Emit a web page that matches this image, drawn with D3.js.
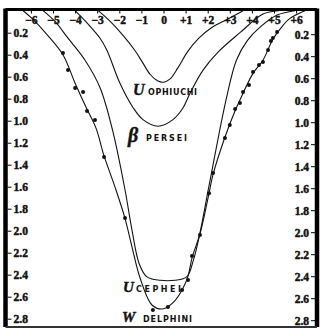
<!DOCTYPE html>
<html><head><meta charset="utf-8">
<script src="https://cdn.jsdelivr.net/npm/d3@7"></script>
<style>html,body{margin:0;padding:0;background:#fff;}svg{display:block;}</style>
</head><body>
<script>
// ---- data ----
const hourTicks = [-6,-5,-4,-3,-2,-1,0,1,2,3,4,5,6];
const hourLabels = ["\u22126","\u22125","\u22124","\u22123","\u22122","\u22121","0","+1","+2","+3","+4","+5","+6"];
const magTicks = [0.2,0.4,0.6,0.8,1.0,1.2,1.4,1.6,1.8,2.0,2.2,2.4,2.6,2.8];
const magLabels = ["0.2","0.4","0.6","0.8","1.0","1.2","1.4","1.6","1.8","2.0","2.2","2.4","2.6","2.8"];

// light curves: [hours from minimum, magnitude drop]
const uOphiuchi = [[-2.95,0],[-2.4,0.1],[-1.85,0.22],[-1.3,0.36],[-0.95,0.47],[-0.6,0.58],[-0.25,0.64],[0,0.65],[0.3,0.62],[0.65,0.52],[1.1,0.37],[1.6,0.25],[2.2,0.15],[2.87,0.08],[3.6,0]];
const betaPersei = [[-4.0,0],[-3.42,0.12],[-2.87,0.25],[-2.56,0.36],[-1.97,0.66],[-1.38,0.88],[-0.93,0.99],[-0.25,1.05],[0.43,0.99],[0.88,0.885],[1.2,0.75],[1.79,0.54],[2.5,0.37],[3.46,0.2],[4.5,0.03],[5.2,0]];
const uCephei = [[-5.45,0],[-4.9,0.1],[-4.32,0.25],[-3.55,0.45],[-2.87,0.70],[-2.3,1.09],[-1.74,1.63],[-1.43,1.99],[-1.1,2.3],[-0.75,2.42],[-0.16,2.45],[0.52,2.45],[1.05,2.42],[1.35,2.27],[1.65,2.02],[2.1,1.55],[2.83,0.81],[3.3,0.45],[3.8,0.27],[4.37,0.15],[5.14,0.04],[5.95,0]];
const wDelphini = [[-6.35,0],[-5.95,0.07],[-5.3,0.21],[-4.55,0.4],[-4.0,0.66],[-3.5,0.88],[-3.05,1.07],[-2.69,1.32],[-2.2,1.6],[-1.74,1.89],[-1.4,2.17],[-1.06,2.43],[-0.5,2.68],[0,2.71],[0.5,2.64],[0.84,2.54],[1.1,2.42],[1.3,2.24],[1.65,2.03],[2.06,1.66],[2.24,1.49],[2.78,1.15],[3.24,0.91],[3.6,0.75],[4.05,0.57],[4.5,0.45],[4.95,0.26],[5.3,0.16],[5.72,0.07],[6.4,0]];
const wDelphiniObs = [[-4.55,0.385],[-4.32,0.539],[-4.0,0.703],[-3.64,0.739],[-3.46,0.912],[-3.1,0.994],[-2.69,1.33],[-1.74,1.885],[-0.48,2.72],[0.2,2.694],[0.84,2.54],[1.11,2.448],[1.29,2.23],[1.65,2.04],[2.06,1.66],[2.24,1.475],[2.78,1.157],[3.0,1.04],[3.24,0.894],[3.46,0.839],[3.6,0.739],[3.87,0.675],[4.05,0.557],[4.32,0.494],[4.5,0.466],[4.73,0.357],[4.86,0.276],[4.95,0.248],[5.14,0.194]];

const starNames = ["OPHIUCHI","PERSEI","CEPHEI","DELPHINI"];
const starSymbols = ["U","\u03B2","U","W"];

// ---- drawing ----
const W = 320, H = 330;
const svg = d3.select("body").append("svg").attr("width", W).attr("height", H);

const x = d3.scaleLinear().domain([-6, 6]).range([30.9, 296.1]);
const y = d3.scaleLinear().domain([0, 2.8]).range([10.7, 318.7]);

const frame = {l: 5.5, r: 317, t: 9.5, b: 327};

svg.append("clipPath").attr("id","clip").append("rect")
  .attr("x", frame.l).attr("y", frame.t).attr("width", frame.r - frame.l).attr("height", frame.b - frame.t);

const line = d3.line().x(d => x(d[0])).y(d => y(d[1])).curve(d3.curveCatmullRom.alpha(0.5));
const g = svg.append("g").attr("clip-path","url(#clip)");
[uOphiuchi, betaPersei, uCephei, wDelphini].forEach(c => {
  g.append("path").attr("d", line(c)).attr("fill","none").attr("stroke","#111").attr("stroke-width",1.1);
});
g.selectAll("circle.obs").data(wDelphiniObs).join("circle").attr("class","obs")
  .attr("cx", d => x(d[0])).attr("cy", d => y(d[1])).attr("r", 2).attr("fill","#111");

// frame
svg.append("line").attr("x1",frame.l).attr("x2",frame.l).attr("y1",frame.t-1).attr("y2",frame.b).attr("stroke","#000").attr("stroke-width",4.5);
svg.append("line").attr("x1",frame.r).attr("x2",frame.r).attr("y1",frame.t-1).attr("y2",frame.b).attr("stroke","#000").attr("stroke-width",4.5);
svg.append("line").attr("x1",frame.l).attr("x2",frame.r).attr("y1",frame.t).attr("y2",frame.t).attr("stroke","#000").attr("stroke-width",3);
svg.append("line").attr("x1",frame.l).attr("x2",frame.r).attr("y1",frame.b).attr("y2",frame.b).attr("stroke","#333").attr("stroke-width",2);

function styleLabels(sel) {
  sel.style("font-family","'Liberation Serif', 'Times New Roman', serif").style("font-weight","700")
     .style("font-size","11.5px").attr("fill","#111").attr("stroke","#111").attr("stroke-width",0.45);
}

// top axis (hours)
const topAxis = d3.axisBottom(x).tickValues(hourTicks).tickSize(3).tickPadding(2)
  .tickFormat((d,i) => hourLabels[i]);
const ta = svg.append("g").attr("transform",`translate(0,${frame.t+1})`).call(topAxis);
ta.select(".domain").remove();
styleLabels(ta.selectAll("text"));

// left axis (magnitude)
const leftAxis = d3.axisRight(y).tickValues(magTicks).tickSize(4).tickPadding(2)
  .tickFormat((d,i) => magLabels[i]);
const la = svg.append("g").attr("transform",`translate(${frame.l+2},0)`).call(leftAxis);
la.select(".domain").remove();
styleLabels(la.selectAll("text"));
la.selectAll("text").attr("dy","0.35em");

// right axis
const rightAxis = d3.axisLeft(y).tickValues(magTicks).tickSize(4).tickPadding(2)
  .tickFormat((d,i) => magLabels[i]);
const ra = svg.append("g").attr("transform",`translate(${frame.r-2},1.5)`).call(rightAxis);
ra.select(".domain").remove();
styleLabels(ra.selectAll("text"));
ra.selectAll("text").attr("dy","0.35em");

// star labels
const labelPos = [
  {sx:133, nx:148, yb:95, ss:16, nw:49},
  {sx:128, nx:146, yb:142, ss:20, nw:41},
  {sx:123, nx:136, yb:292, ss:15, nw:45},
  {sx:122, nx:143, yb:322, ss:15, nw:49}
];
labelPos.forEach((p,i) => {
  svg.append("text").attr("x",p.sx).attr("y",p.yb)
    .style("font-family","'Liberation Serif', serif").style("font-style","italic").style("font-weight","700")
    .style("font-size",p.ss+"px").attr("fill","#111").attr("stroke","#111").attr("stroke-width",0.4).text(starSymbols[i]);
  svg.append("text").attr("x",p.nx).attr("y",p.yb - (i===1?1:0))
    .style("font-family","'DejaVu Sans', sans-serif").style("font-weight","700")
    .style("font-size","8px").attr("fill","#111")
    .attr("textLength",p.nw).attr("lengthAdjust","spacing").text(starNames[i]);
});
</script>
</body></html>
